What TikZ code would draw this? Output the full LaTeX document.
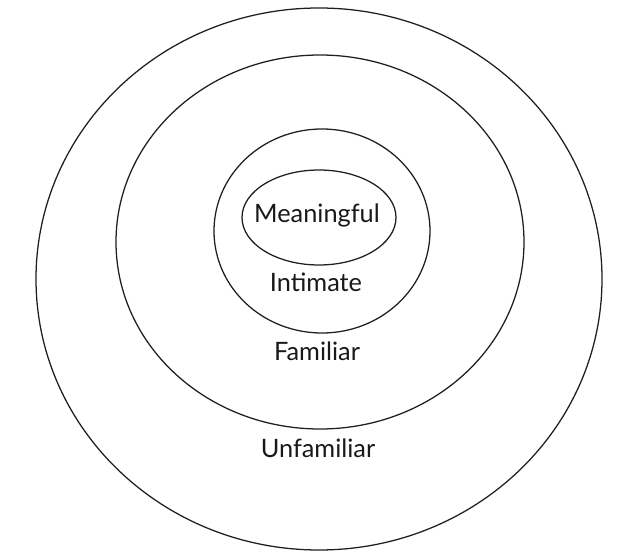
\documentclass[tikz,border=0pt]{standalone}
\usepackage{fontspec}
\setmainfont{Lato}
\begin{document}
\begin{tikzpicture}[x=0.75pt,y=-0.75pt,
  ring/.style={draw=black!88, line width=0.95pt},
  lbl/.style={inner sep=0pt, font=\fontsize{19}{22}\selectfont, text=black!90}]
\useasboundingbox (0,0) rectangle (640,556);
\draw[ring] (319,279) ellipse [x radius=283, y radius=271];
\draw[ring] (320,242) ellipse [x radius=204, y radius=187];
\draw[ring] (322,231) ellipse [x radius=108, y radius=102];
\draw[ring] (319,217.5) ellipse [x radius=77, y radius=47.5];
\node[lbl] (meaningful) at (317,215) {Meaningful};
\node[lbl] (intimate) at (316,282) {Intimate};
\node[lbl] (familiar) at (317,351) {Familiar};
\node[lbl] (unfamiliar) at (318,448) {Unfamiliar};
\end{tikzpicture}
\end{document}
